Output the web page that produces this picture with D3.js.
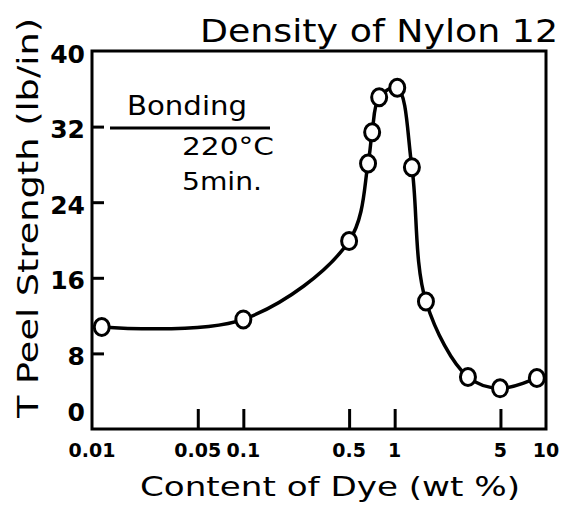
<!DOCTYPE html>
<meta charset="utf-8">
<head>
    <script src="https://d3js.org/d3.v7.min.js"></script>
</head>
<body style="margin:0; background:#fff;">
    <div id="svg_div"></div>
</body>
<style>
    text { font-family: "DejaVu Sans", sans-serif; fill: #000; }
</style>
<script>

    var dye_content = [0.0116, 0.1, 0.5, 0.667, 0.71, 0.79, 1.04, 1.3, 1.61, 3.05, 4.97, 8.7];
    var peel_strength = [10.8, 11.6, 19.9, 28.1, 31.4, 35.1, 36.1, 27.7, 13.5, 5.5, 4.3, 5.4];

    var x_ticks = [0.01, 0.05, 0.1, 0.5, 1, 5, 10];
    var x_tick_labels = ["0.01", "0.05", "0.1", "0.5", "1", "5", "10"];
    var y_ticks = [0, 8, 16, 24, 32, 40];

    var title = "Density of Nylon 12";
    var x_title = "Content of Dye (wt %)";
    var y_title = "T Peel Strength (lb/in)";
    var note_lines = ["Bonding", "220°C", "5min."];

    function draw_chart() {
        let width = 565, height = 506;
        let left = 92, right = 546, top = 51, bottom = 429;

        let svg = d3.select("#svg_div").append("svg")
            .attr("width", width)
            .attr("height", height);

        let x = d3.scaleLog().domain([0.01, 10]).range([left, right]);
        let y = d3.scaleLinear().domain([0, 40]).range([bottom, top]);

        // frame
        svg.append("rect")
            .attr("x", left).attr("y", top)
            .attr("width", right - left).attr("height", bottom - top)
            .attr("fill", "none").attr("stroke", "#000").attr("stroke-width", 3);

        // y ticks (inside)
        svg.append("g")
            .attr("transform", "translate(" + left + ",0)")
            .call(d3.axisRight(y).tickValues(y_ticks.filter(d => d > 0 && d < 40)).tickSize(12).tickFormat(""))
            .call(g => g.select(".domain").remove())
            .call(g => g.selectAll("line").attr("stroke-width", 3));

        // x ticks (inside)
        svg.append("g")
            .attr("transform", "translate(0," + bottom + ")")
            .call(d3.axisTop(x).tickValues(x_ticks.slice(1, -1)).tickSize(20).tickFormat(""))
            .call(g => g.select(".domain").remove())
            .call(g => g.selectAll("line").attr("stroke-width", 3));

        // y tick labels
        svg.append("g").selectAll("text")
            .data(y_ticks)
            .enter().append("text")
            .attr("x", left - 7)
            .attr("y", d => Math.min(y(d) + 3, bottom - 17))
            .attr("dominant-baseline", "central")
            .attr("text-anchor", "end")
            .style("font-size", "25px")
            .style("font-weight", "bold")
            .text(d => d);

        // x tick labels
        svg.append("g").selectAll("text")
            .data(x_ticks)
            .enter().append("text")
            .attr("x", d => x(d))
            .attr("y", 457)
            .attr("text-anchor", "middle")
            .style("font-size", "19px")
            .style("font-weight", "bold")
            .text((d, i) => x_tick_labels[i]);

        // titles
        svg.append("text")
            .attr("x", 200).attr("y", 42)
            .attr("textLength", 358).attr("lengthAdjust", "spacingAndGlyphs")
            .style("font-size", "32px")
            .text(title);

        svg.append("text")
            .attr("x", 140).attr("y", 496)
            .attr("textLength", 380).attr("lengthAdjust", "spacingAndGlyphs")
            .style("font-size", "27px")
            .text(x_title);

        svg.append("text")
            .attr("transform", "translate(38,418) rotate(-90)")
            .attr("x", 0).attr("y", 0)
            .attr("textLength", 400).attr("lengthAdjust", "spacingAndGlyphs")
            .style("font-size", "28px")
            .text(y_title);

        // bonding note
        svg.append("text")
            .attr("x", 127).attr("y", 115)
            .attr("textLength", 120).attr("lengthAdjust", "spacingAndGlyphs")
            .style("font-size", "26px")
            .text(note_lines[0]);
        svg.append("line")
            .attr("x1", 110).attr("x2", 270).attr("y1", 128).attr("y2", 128)
            .attr("stroke", "#000").attr("stroke-width", 3);
        svg.append("text")
            .attr("x", 182).attr("y", 155)
            .attr("textLength", 92).attr("lengthAdjust", "spacingAndGlyphs")
            .style("font-size", "24px")
            .text(note_lines[1]);
        svg.append("text")
            .attr("x", 182).attr("y", 190)
            .attr("textLength", 80).attr("lengthAdjust", "spacingAndGlyphs")
            .style("font-size", "24px")
            .text(note_lines[2]);

        // curve + open circles
        let points = dye_content.map((d, i) => [d, peel_strength[i]]);
        let line = d3.line()
            .x(d => x(d[0]))
            .y(d => y(d[1]))
            .curve(d3.curveCatmullRom.alpha(0.5));

        svg.append("path")
            .datum(points)
            .attr("d", line)
            .attr("fill", "none")
            .attr("stroke", "#000")
            .attr("stroke-width", 3.5);

        svg.append("g").selectAll("ellipse")
            .data(points)
            .enter().append("ellipse")
            .attr("cx", d => x(d[0]))
            .attr("cy", d => y(d[1]))
            .attr("rx", 7.5).attr("ry", 8.5)
            .attr("fill", "#fff")
            .attr("stroke", "#000")
            .attr("stroke-width", 3);
    }

    draw_chart();

</script>
